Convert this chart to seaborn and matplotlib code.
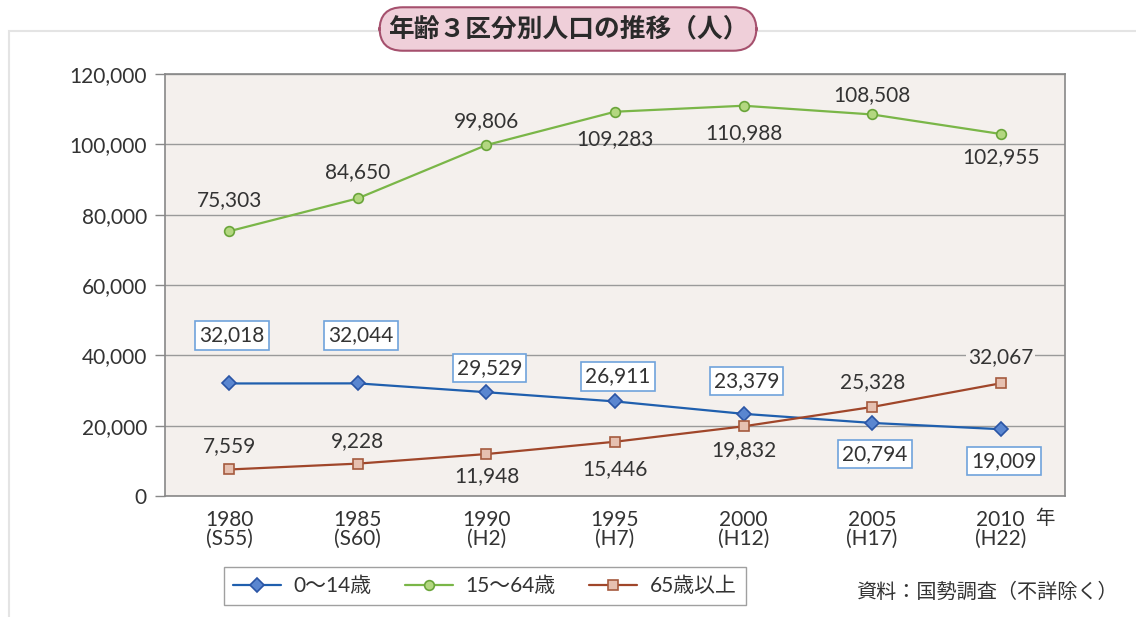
import seaborn as sns
import matplotlib.pyplot as plt
import pandas as pd
from matplotlib.patches import FancyBboxPatch

# データ
years = ["1980", "1985", "1990", "1995", "2000", "2005", "2010"]
eras = ["(S55)", "(S60)", "(H2)", "(H7)", "(H12)", "(H17)", "(H22)"]
young = [32018, 32044, 29529, 26911, 23379, 20794, 19009]
working = [75303, 84650, 99806, 109283, 110988, 108508, 102955]
elderly = [7559, 9228, 11948, 15446, 19832, 25328, 32067]
series_names = ["0〜14歳", "15〜64歳", "65歳以上"]

# ラベルの上下位置 (ピクセル)
young_off = [48, 48, 24, 25, 33, -31, -32]
working_off = [31, 26, 24, -27, -27, 19, -23]
elderly_off = [23, 23, -22, -27, -24, 25, 26]

sns.set_style("white")
plt.rcParams["font.family"] = ["Noto Sans CJK JP", "DejaVu Sans"]
num_font = dict(family=["Lato", "Noto Sans CJK JP"], weight="normal")
txt_col = "#333333"

df = pd.DataFrame({
    "pos": list(range(len(years))) * 3,
    "value": young + working + elderly,
    "group": [n for n in series_names for _ in years],
})

fig = plt.figure(figsize=(11.36, 6.17), dpi=100)
fig.patch.set_facecolor("white")

# カード背景
card = FancyBboxPatch((0.008, -0.02), 1.1, 0.97, boxstyle="square,pad=0",
                      transform=fig.transFigure, facecolor="white",
                      edgecolor="#e4e4e4", linewidth=1.5, zorder=-5)
fig.patches.append(card)

ax = fig.add_axes([0.1452, 0.196, 0.7923, 0.684])
ax.set_zorder(2)
ax.set_facecolor("#f4f0ed")

styles = {
    "0〜14歳": dict(color="#1f5fae", marker="D", markersize=7.5,
                   markerfacecolor="#5a86d0", markeredgecolor="#2a55a5"),
    "15〜64歳": dict(color="#7ab648", marker="o", markersize=7,
                    markerfacecolor="#b3d780", markeredgecolor="#6aa53a"),
    "65歳以上": dict(color="#a0462a", marker="s", markersize=7.5,
                    markerfacecolor="#e6c0b0", markeredgecolor="#a55a3e"),
}

for name in series_names:
    sub = df[df["group"] == name]
    st = styles[name]
    sns.lineplot(data=sub, x="pos", y="value", ax=ax, linewidth=1.6,
                 markeredgewidth=1.2, zorder=3, label=name, **st)

ax.set_xlim(-0.5, 6.5)
ax.set_ylim(0, 120000)
ax.set_yticks(range(0, 120001, 20000))
ax.set_yticklabels([f"{v:,}" for v in range(0, 120001, 20000)],
                   fontsize=15, color=txt_col, **num_font)
ax.set_xticks(range(len(years)))
ax.set_xticklabels([f"{y}\n{e}" for y, e in zip(years, eras)],
                   fontsize=15, color=txt_col, linespacing=0.95, **num_font)
ax.tick_params(axis="y", length=7, width=1, color="#888888", direction="out",
               left=True, pad=6)
ax.tick_params(axis="x", length=0, pad=10)
ax.set_xlabel("")
ax.set_ylabel("")
ax.grid(axis="y", color="#9a9a9a", linewidth=1)
ax.set_axisbelow(True)
for sp in ax.spines.values():
    sp.set_color("#888888")
    sp.set_linewidth(1.2)
ax.get_legend().remove()

# データラベル
for i, (v, o) in enumerate(zip(young, young_off)):
    ax.annotate(f"{v:,}", (i, v), xytext=(3, o), textcoords="offset pixels",
                ha="center", va="center", fontsize=15, color=txt_col,
                bbox=dict(boxstyle="square,pad=0.2", facecolor="white",
                          edgecolor="#6fa3dc", linewidth=1.2), zorder=5,
                **num_font)
for i, (v, o) in enumerate(zip(working, working_off)):
    ax.annotate(f"{v:,}", (i, v), xytext=(0, o), textcoords="offset pixels",
                ha="center", va="center", fontsize=15, color=txt_col,
                zorder=5, **num_font)
for i, (v, o) in enumerate(zip(elderly, elderly_off)):
    bb = dict(boxstyle="square,pad=0.1", facecolor="#f4f0ed", edgecolor="none")
    ax.annotate(f"{v:,}", (i, v), xytext=(0, o), textcoords="offset pixels",
                ha="center", va="center", fontsize=15, color=txt_col,
                bbox=bb, zorder=5, **num_font)

fig.text(1045 / 1136, 1 - 519 / 617, "年", fontsize=14, color=txt_col,
         ha="center", va="center")

# タイトル
fig.text(0.5, 1 - 29 / 617, "年齢３区分別人口の推移（人）", fontsize=18.5,
         fontweight="bold", color="#2a2a2a", ha="center", va="center",
         zorder=10,
         bbox=dict(boxstyle="round,pad=0.32,rounding_size=0.9",
                   facecolor="#efcfd9", edgecolor="#a5506d", linewidth=1.5))

# 凡例
h, l = ax.get_legend_handles_labels()
fig.legend(h, l, loc="center", bbox_to_anchor=(485 / 1136, 1 - 586 / 617),
           ncol=3, prop=dict(family=["Lato", "Noto Sans CJK JP"], size=15),
           frameon=True, fancybox=False, edgecolor="#888888",
           handlelength=2.3, handletextpad=0.6, columnspacing=1.6,
           borderpad=0.45, labelcolor=txt_col)

fig.text(1118 / 1136, 1 - 592 / 617, "資料：国勢調査（不詳除く）", fontsize=14.5,
         color=txt_col, ha="right", va="center")

fig.savefig("out.png", dpi=100)
